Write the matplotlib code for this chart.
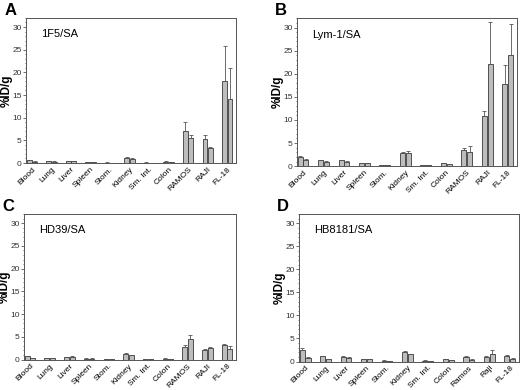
import numpy as np
import matplotlib
matplotlib.use("Agg")
import matplotlib.pyplot as plt
from matplotlib.ticker import MultipleLocator

plt.rcParams['font.family'] = ['Liberation Sans', 'DejaVu Sans']

organs = ["Blood", "Lung", "Liver", "Spleen", "Stom.", "Kidney", "Sm. Int.", "Colon", "RAMOS", "RAJI", "FL-18"]
organs_d = ["Blood", "Lung", "Liver", "Spleen", "Stom.", "Kidney", "Sm. Int.", "Colon", "Ramos", "Raji", "FL-18"]

# panel A: 1F5/SA
a1 = [0.6, 0.4, 0.4, 0.2, 0.1, 1.2, 0.1, 0.3, 7.1, 5.3, 18.2]
a1_err = [0.1, 0.1, 0.1, 0.05, 0.05, 0.1, 0.05, 0.05, 1.9, 0.8, 7.7]
a2 = [0.3, 0.3, 0.35, 0.2, 0.05, 0.9, 0.05, 0.15, 5.5, 3.3, 14.1]
a2_err = [0.05, 0.05, 0.05, 0.05, 0.02, 0.1, 0.02, 0.05, 0.7, 0.3, 6.9]

# panel B: Lym-1/SA
b1 = [2.0, 1.3, 1.3, 0.7, 0.3, 2.9, 0.3, 0.6, 3.4, 10.8, 17.7]
b1_err = [0.15, 0.1, 0.1, 0.05, 0.05, 0.2, 0.05, 0.05, 0.6, 1.2, 4.2]
b2 = [1.4, 1.0, 1.0, 0.7, 0.3, 2.9, 0.3, 0.4, 3.0, 22.2, 24.0]
b2_err = [0.1, 0.1, 0.1, 0.05, 0.05, 0.3, 0.05, 0.05, 1.3, 9.1, 6.8]

# panel C: HD39/SA
c1 = [0.7, 0.4, 0.5, 0.2, 0.1, 1.3, 0.1, 0.2, 2.7, 2.2, 3.3]
c1_err = [0.1, 0.05, 0.05, 0.05, 0.02, 0.1, 0.02, 0.05, 0.4, 0.2, 0.2]
c2 = [0.3, 0.3, 0.6, 0.2, 0.05, 1.0, 0.05, 0.15, 4.6, 2.5, 2.4]
c2_err = [0.05, 0.05, 0.1, 0.05, 0.02, 0.1, 0.02, 0.05, 0.9, 0.3, 0.6]

# panel D: HB8181/SA
d1 = [2.4, 1.2, 1.0, 0.6, 0.2, 2.1, 0.2, 0.5, 0.9, 1.0, 1.2]
d1_err = [0.5, 0.1, 0.1, 0.05, 0.05, 0.1, 0.05, 0.05, 0.3, 0.1, 0.3]
d2 = [0.8, 0.6, 0.8, 0.5, 0.1, 1.6, 0.1, 0.3, 0.4, 1.6, 0.6]
d2_err = [0.2, 0.05, 0.1, 0.05, 0.02, 0.1, 0.02, 0.05, 0.05, 0.8, 0.1]

fig = plt.figure(figsize=(5.2, 3.9), dpi=100)

panels = [
    ("A", "1F5/SA", organs, a1, a1_err, a2, a2_err, [0.050, 0.582, 0.404, 0.372]),
    ("B", "Lym-1/SA", organs, b1, b1_err, b2, b2_err, [0.571, 0.574, 0.423, 0.379]),
    ("C", "HD39/SA", organs, c1, c1_err, c2, c2_err, [0.046, 0.078, 0.408, 0.373]),
    ("D", "HB8181/SA", organs_d, d1, d1_err, d2, d2_err, [0.575, 0.073, 0.423, 0.378]),
]

bar_color = "#bdbdbd"
edge = "#3a3a3a"
w = 0.25

for letter, name, labels, v1, e1, v2, e2, pos in panels:
    ax = fig.add_axes(pos)
    x = np.arange(len(labels))
    ekw = dict(ecolor="#555555", elinewidth=0.6, capsize=1.2, capthick=0.6)
    ax.bar(x - 0.14, v1, w, color=bar_color, edgecolor=edge, linewidth=0.6,
           yerr=[np.zeros(len(e1)), e1], error_kw=ekw)
    ax.bar(x + 0.14, v2, w, color=bar_color, edgecolor=edge, linewidth=0.6,
           yerr=[np.zeros(len(e2)), e2], error_kw=ekw)
    ax.set_xlim(-0.3, 10.45)
    ax.set_ylim(0, 32)
    ax.set_xticks(x)
    ax.set_xticklabels(labels, rotation=45, ha="right", rotation_mode="anchor", fontsize=6)
    ax.set_yticks([0, 5, 10, 15, 20, 25, 30])
    ax.yaxis.set_minor_locator(MultipleLocator(1))
    ax.tick_params(axis="y", labelsize=6, length=2, width=0.5, colors="#333333", pad=1)
    ax.tick_params(axis="y", which="minor", length=1, width=0.4)
    ax.tick_params(axis="x", length=0, pad=2)
    for s in ax.spines.values():
        s.set_color("#555555")
        s.set_linewidth(0.7)
    ax.set_ylabel("%ID/g", fontsize=8.5, fontweight="bold")
    ax.yaxis.set_label_coords(-13.0 / (pos[2] * 520), 0.5)
    ax.text(0.07, 0.87, name, transform=ax.transAxes, fontsize=8)
    fig.text(pos[0] - 0.042, pos[1] + pos[3] + 0.008, letter, fontsize=12, fontweight="bold")

fig.savefig("out.png", dpi=100)
